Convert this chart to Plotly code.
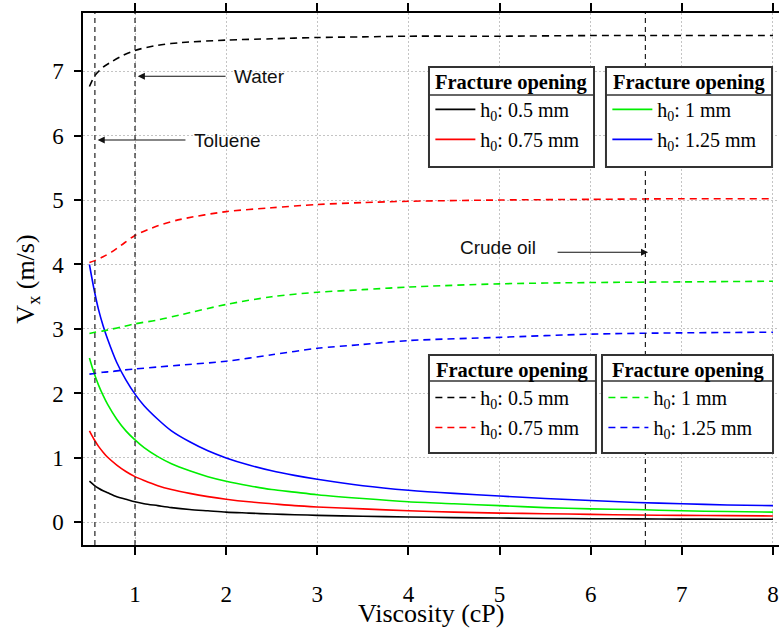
import plotly.graph_objects as go

# ---------------- data ----------------
visc_solid = [0.5, 0.55, 0.6, 0.65, 0.7, 0.8, 0.9, 1.0, 1.1, 1.25, 1.4, 1.6, 1.8, 2.0, 2.25,
              2.5, 2.75, 3.0, 3.5, 4.0, 4.5, 5.0, 5.5, 6.0, 6.5, 7.0, 7.5, 8.0]
vx_solid_05 = [0.64, 0.58, 0.53, 0.49, 0.46, 0.40, 0.36, 0.32, 0.29, 0.26, 0.23, 0.20, 0.18, 0.16,
               0.145, 0.13, 0.12, 0.11, 0.095, 0.085, 0.075, 0.068, 0.062, 0.058, 0.055, 0.052, 0.05, 0.05]
vx_solid_075 = [1.42, 1.29, 1.18, 1.09, 1.01, 0.89, 0.79, 0.71, 0.65, 0.57, 0.51, 0.45, 0.40, 0.36,
                0.32, 0.29, 0.26, 0.24, 0.21, 0.18, 0.16, 0.145, 0.135, 0.125, 0.115, 0.11, 0.105, 0.10]
vx_solid_1 = [2.55, 2.32, 2.13, 1.97, 1.83, 1.60, 1.42, 1.28, 1.16, 1.02, 0.91, 0.80, 0.71, 0.64,
              0.57, 0.51, 0.47, 0.43, 0.37, 0.32, 0.29, 0.26, 0.23, 0.21, 0.20, 0.18, 0.17, 0.16]
vx_solid_125 = [4.0, 3.62, 3.30, 3.05, 2.84, 2.48, 2.21, 1.99, 1.81, 1.60, 1.42, 1.25, 1.11, 1.0,
                0.89, 0.80, 0.73, 0.67, 0.57, 0.50, 0.45, 0.41, 0.37, 0.34, 0.31, 0.29, 0.27, 0.26]

visc_dash = [0.5, 0.56, 0.65, 0.75, 0.85, 1.0, 1.25, 1.5, 2.0, 2.5, 3.0, 3.5, 4.0, 5.0, 6.0, 7.0, 8.0]
vx_dash_05 = [6.76, 6.93, 7.06, 7.15, 7.23, 7.32, 7.40, 7.44, 7.48, 7.50, 7.52, 7.53, 7.54, 7.54,
              7.55, 7.55, 7.55]
vx_dash_075 = [4.03, 4.06, 4.12, 4.20, 4.30, 4.45, 4.60, 4.70, 4.82, 4.88, 4.93, 4.96, 4.98, 5.00,
               5.01, 5.02, 5.02]
vx_dash_1 = [2.93, 2.95, 2.97, 3.00, 3.03, 3.08, 3.14, 3.22, 3.38, 3.50, 3.57, 3.61, 3.65, 3.70,
             3.72, 3.73, 3.74]
vx_dash_125 = [2.30, 2.31, 2.33, 2.34, 2.36, 2.38, 2.41, 2.44, 2.50, 2.60, 2.70, 2.76, 2.82, 2.87,
               2.92, 2.94, 2.95]

series_labels = ["h<sub>0</sub>: 0.5 mm", "h<sub>0</sub>: 0.75 mm",
                 "h<sub>0</sub>: 1 mm", "h<sub>0</sub>: 1.25 mm"]
series_colors = ["#000000", "#ff0000", "#00ee00", "#0000ff"]
legend_title = "Fracture opening"
x_title = "Viscosity (cP)"
y_title = "V<sub>x</sub> (m/s)"

ref_names = ["Toluene", "Water", "Crude oil"]
ref_visc = [0.56, 1.0, 6.6]

x_ticks = [1, 2, 3, 4, 5, 6, 7, 8]
y_ticks = [0, 1, 2, 3, 4, 5, 6, 7]

SERIF = "Liberation Serif, Times New Roman, serif"
SANS = "Liberation Sans, Arial, sans-serif"

fig = go.Figure()

solid = [vx_solid_05, vx_solid_075, vx_solid_1, vx_solid_125]
dashed = [vx_dash_05, vx_dash_075, vx_dash_1, vx_dash_125]
solid_leg = ["legend", "legend", "legend2", "legend2"]
dash_leg = ["legend3", "legend3", "legend4", "legend4"]

for i in range(4):
    fig.add_trace(go.Scatter(x=visc_solid, y=solid[i], mode="lines", name=series_labels[i],
                             line=dict(color=series_colors[i], width=1.6, shape="spline", smoothing=0.8),
                             legend=solid_leg[i], legendgroup="s%d" % i))
for i in range(4):
    fig.add_trace(go.Scatter(x=visc_dash, y=dashed[i], mode="lines", name=series_labels[i],
                             line=dict(color=series_colors[i], width=1.6, dash="7px,5px",
                                       shape="spline", smoothing=0.8),
                             legend=dash_leg[i], legendgroup="d%d" % i))

# reference viscosity lines
for v in ref_visc:
    fig.add_shape(type="line", xref="x", yref="paper", x0=v, x1=v, y0=0, y1=1,
                  line=dict(color="#222222", width=1.2, dash="5px,4px"))

# arrows + labels: (name, head_x, tail_x, arrow_y, text_x, text_y)
arrow_specs = [
    ("Toluene", ref_visc[0], 1.57, 5.93, 1.63, 5.93),
    ("Water", ref_visc[1], 2.01, 6.92, 2.06, 6.92),
    ("Crude oil", ref_visc[2], 5.62, 4.19, 4.54, 4.26),
]
for name, hx, tx, yy, textx, texty in arrow_specs:
    fig.add_annotation(x=hx + 0.03, y=yy, ax=tx, ay=yy, xref="x", yref="y", axref="x", ayref="y",
                       text="", showarrow=True, arrowhead=2, arrowsize=1.3, arrowwidth=1.1,
                       arrowcolor="#111111")
    fig.add_annotation(x=textx, y=texty, xref="x", yref="y",
                       text=name, showarrow=False, xanchor="left", yanchor="middle",
                       font=dict(family=SANS, size=19, color="#111111"))

# x-axis title placed below the tick labels
fig.add_annotation(x=0.5, y=-0.129, xref="paper", yref="paper", text=x_title, showarrow=False,
                   xanchor="center", yanchor="middle", font=dict(family=SERIF, size=26, color="black"))

# legend frames (paper coordinates): x0, x1, y_top, y_sep, y_bottom, title_y, items_top
frames = [
    (0.4971, 0.7342, 0.8985, 0.8459, 0.7105, 0.8703, 0.8555),
    (0.7514, 0.9900, 0.8985, 0.8459, 0.7105, 0.8703, 0.8555),
    (0.4971, 0.7370, 0.3571, 0.3083, 0.1729, 0.3289, 0.3140),
    (0.7457, 0.9914, 0.3571, 0.3083, 0.1729, 0.3289, 0.3140),
]
leg_names = ["legend", "legend2", "legend3", "legend4"]
leg_layout = {}
for (x0, x1, yt, ys, yb, ty, it), ln in zip(frames, leg_names):
    fig.add_shape(type="rect", xref="paper", yref="paper", x0=x0, x1=x1, y0=yb, y1=yt,
                  fillcolor="white", line=dict(color="#333333", width=2), layer="above")
    fig.add_shape(type="line", xref="paper", yref="paper", x0=x0, x1=x1, y0=ys, y1=ys,
                  line=dict(color="#333333", width=1.5), layer="above")
    fig.add_annotation(x=(x0 + x1) / 2, y=ty, xref="paper", yref="paper",
                       text="<b>%s</b>" % legend_title, showarrow=False,
                       xanchor="center", yanchor="middle",
                       font=dict(family=SERIF, size=20.5, color="black"))
    leg_layout[ln] = dict(x=x0 + 0.002, y=it, xanchor="left", yanchor="top",
                          bgcolor="rgba(0,0,0,0)", borderwidth=0,
                          font=dict(family=SERIF, size=20, color="black"),
                          tracegroupgap=1, itemwidth=40)

fig.update_layout(
    width=779, height=628,
    margin=dict(l=83, r=0, t=13, b=83, autoexpand=False),
    plot_bgcolor="white", paper_bgcolor="white",
    font=dict(family=SERIF, size=22, color="black"),
    showlegend=True,
    xaxis=dict(range=[0.4295, 8.066], tickvals=x_ticks, ticks="outside", ticklen=8, tickcolor="black",
               tickwidth=1.5, automargin=False,
               showline=True, linecolor="black", linewidth=1.5, mirror="ticks",
               showgrid=True, gridcolor="#c4c4c4", griddash="2px,2px", gridwidth=1, zeroline=False,
               tickfont=dict(family=SERIF, size=23), ticklabelstandoff=20),
    yaxis=dict(range=[-0.35, 7.9], tickvals=y_ticks, ticks="outside", ticklen=7, tickcolor="black",
               tickwidth=1.5, automargin=False,
               showline=True, linecolor="black", linewidth=1.5, mirror=False,
               showgrid=True, gridcolor="#c4c4c4", griddash="2px,2px", gridwidth=1, zeroline=False,
               tickfont=dict(family=SERIF, size=23), ticklabelstandoff=6,
               title=dict(text=y_title, font=dict(family=SERIF, size=26), standoff=10)),
    **leg_layout,
)

fig.write_html("out.html")
